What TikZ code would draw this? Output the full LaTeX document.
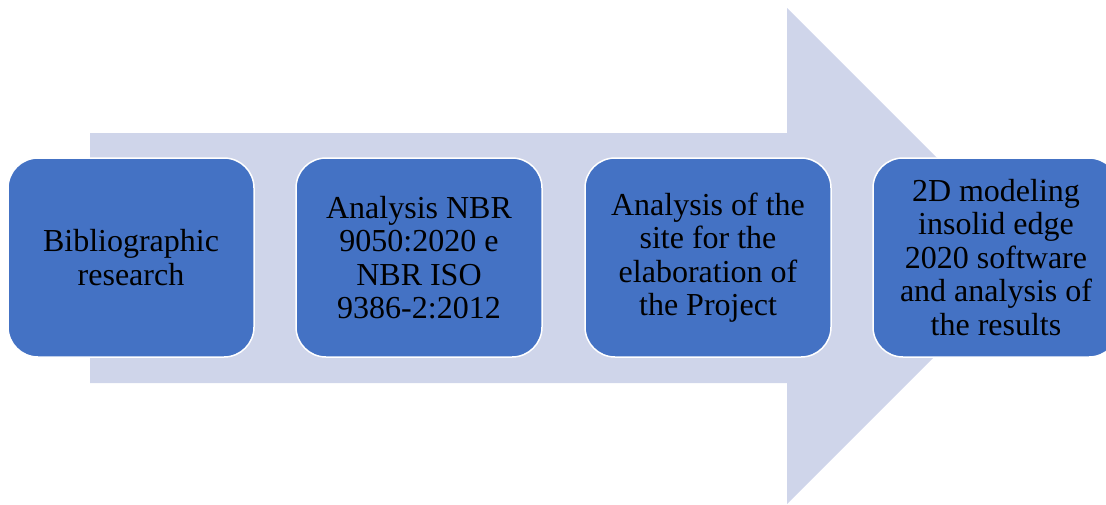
\documentclass[tikz,border=0pt]{standalone}
\usepackage{fontspec}
\setmainfont{Liberation Serif}
\definecolor{boxblue}{HTML}{4472C4}
\definecolor{arrowfill}{HTML}{CFD5EA}
\begin{document}
\begin{tikzpicture}[x=1pt,y=-1pt,
  stepbox/.style={draw=white,line width=1.5pt,fill=boxblue,rounded corners=30pt,
    minimum width=246pt,minimum height=199pt,inner sep=0pt,align=center,
    font=\fontsize{32}{33.5}\selectfont,text=black}]
\useasboundingbox (0,0) rectangle (1106,504);
\fill[arrowfill] (90,133) -- (787,133) -- (787,8) -- (1035,256) -- (787,504) -- (787,383) -- (90,383) -- cycle;
\node[stepbox] (s1) at (131,257.5) {Bibliographic\\research};
\node[stepbox] (s2) at (419,257.5) {Analysis NBR\\9050:2020 e\\NBR ISO\\9386-2:2012};
\node[stepbox] (s3) at (708,257.5) {Analysis of the\\site for the\\elaboration of\\the Project};
\node[stepbox] (s4) at (996,257.5) {2D modeling\\insolid edge\\2020 software\\and analysis of\\the results};
\end{tikzpicture}
\end{document}
